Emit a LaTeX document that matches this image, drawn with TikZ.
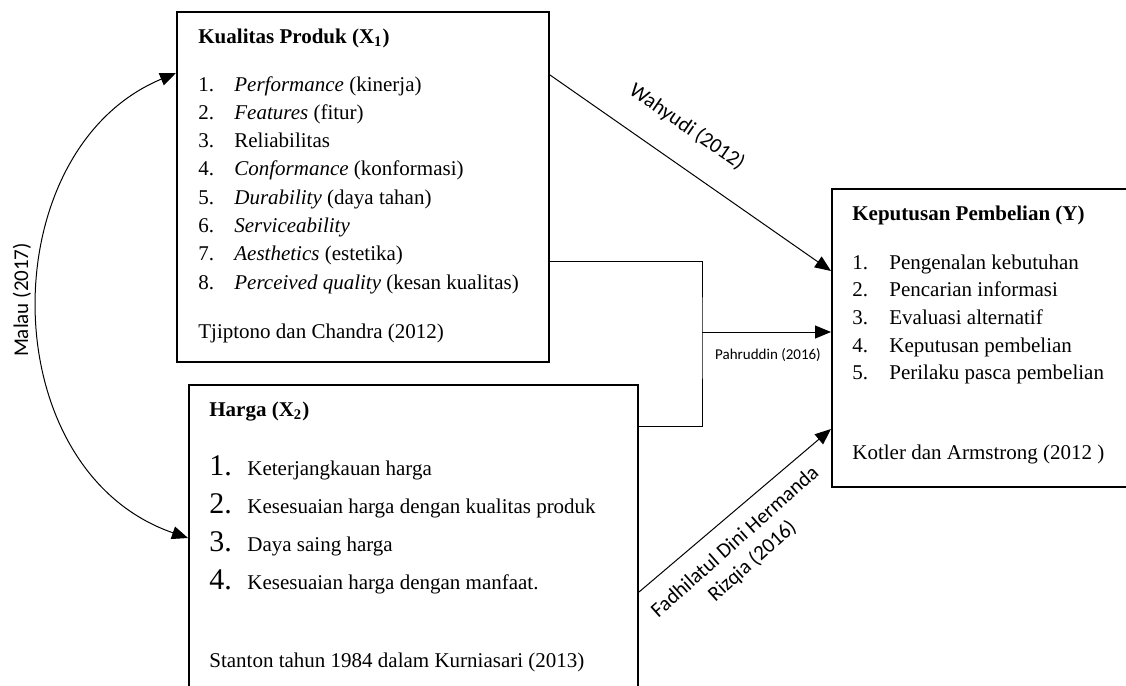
\documentclass[tikz,border=0pt]{standalone}
\usepackage{fontspec}
\setmainfont{Liberation Serif}
\newfontfamily\calibri{Carlito}
\usetikzlibrary{arrows.meta}
\tikzset{
  factorbox/.style={draw,line width=1pt,rectangle,anchor=north west,inner sep=0pt},
  boxtxt/.style={anchor=base west,inner sep=0pt,font=\fontsize{10.5}{12}\selectfont},
  bignum/.style={anchor=base west,inner sep=0pt,font=\fontsize{15}{17}\selectfont},
  cite/.style={inner sep=0pt,font=\calibri\fontsize{10.5}{13}\selectfont},
  link/.style={line width=0.5pt,-{Triangle[length=8pt,width=6.5pt]}}
}
\begin{document}
\begin{tikzpicture}[x=0.5pt,y=-0.5pt]
            \useasboundingbox (0,0) rectangle (1126,686);
            \clip (0,0) rectangle (1126,686);
            \def\dxa{28.3}
            \def\dxb{38.3}
            \def\dy{27.7}
            % the three boxes
            \node[factorbox,minimum width=186pt,minimum height=175pt] (x1) at (176,11) {};
            \node[factorbox,minimum width=224.5pt,minimum height=165pt] (x2) at (188,384) {};
            \node[factorbox,minimum width=160pt,minimum height=149pt] (y) at (831,188) {};
            % kualitas produk
            \node[boxtxt] (x1t) at (198,43) {\textbf{Kualitas Produk (X\textsubscript{1})}};
            \foreach \t [count=\i] in {{\textit{Performance} (kinerja)},
                {\textit{Features} (fitur)},
                {Reliabilitas},
                {\textit{Conformance} (konformasi)},
                {\textit{Durability} (daya tahan)},
                {\textit{Serviceability}},
                {\textit{Aesthetics} (estetika)},
                {\textit{Perceived quality} (kesan kualitas)}}
                {\node[boxtxt] (x1n\i) at (198,{91+(\i-1)*\dxa}) {\i.};
                 \node[boxtxt] (x1i\i) at (234,{91+(\i-1)*\dxa}) {\t};}
            \node[boxtxt] (x1s) at (198,338) {Tjiptono dan Chandra (2012)};
            % harga
            \node[boxtxt] (x2t) at (209,416) {\textbf{Harga (X\textsubscript{2})}};
            \foreach \t [count=\i] in {{Keterjangkauan harga},
                {Kesesuaian harga dengan kualitas produk},
                {Daya saing harga},
                {Kesesuaian harga dengan manfaat.}}
                {\node[bignum] (x2n\i) at (209,{475+(\i-1)*\dxb}) {\i.};
                 \node[boxtxt] (x2i\i) at (247,{475+(\i-1)*\dxb}) {\t};}
            \node[boxtxt] (x2s) at (209,667) {Stanton tahun 1984 dalam Kurniasari (2013)};
            % keputusan pembelian
            \node[boxtxt] (yt) at (852,220) {\textbf{Keputusan Pembelian (Y)}};
            \foreach \t [count=\i] in {{Pengenalan kebutuhan},
                {Pencarian informasi},
                {Evaluasi alternatif},
                {Keputusan pembelian},
                {Perilaku pasca pembelian}}
                {\node[boxtxt] (yn\i) at (852,{269+(\i-1)*\dy}) {\i.};
                 \node[boxtxt] (yi\i) at (889,{269+(\i-1)*\dy}) {\t};}
            \node[boxtxt] (ys) at (852,459) {Kotler dan Armstrong (2012 )};
            % connectors
            \draw[link] ([yshift=-32pt]x1.north east)
                -- ([yshift=-41.5pt]y.north west);
            \node[cite,rotate=-34.7] (wah) at (687,127) {Wahyudi (2012)};
            \coordinate (jn) at (702,332);
            \draw[line width=0.5pt] ([yshift=-125pt]x1.north east)
                -| (jn) |- ([yshift=-21pt]x2.north east);
            \draw[link] (jn) -- (jn -| y.west);
            \node[cite,font=\calibri\fontsize{7.5}{9}\selectfont] (pah) at (768,355) {Pahruddin (2016)};
            \draw[link] ([yshift=-104pt]x2.north east)
                -- ([yshift=-120.5pt]y.north west);
            \node[cite,rotate=41.7,align=center] (fad) at (744,552) {Fadhilatul Dini Hermanda\\Rizqia (2016)};
            \draw[line width=0.5pt,{Triangle[length=8pt,width=6.5pt]}-{Triangle[length=8pt,width=6.5pt]}]
                ([yshift=-31pt]x1.north west)
                .. controls (-9,150) and (-9,470) ..
                ([yshift=-77pt]x2.north west);
            \node[cite,rotate=90] (mal) at (22,300) {Malau (2017)};
            \end{tikzpicture}
\end{document}
